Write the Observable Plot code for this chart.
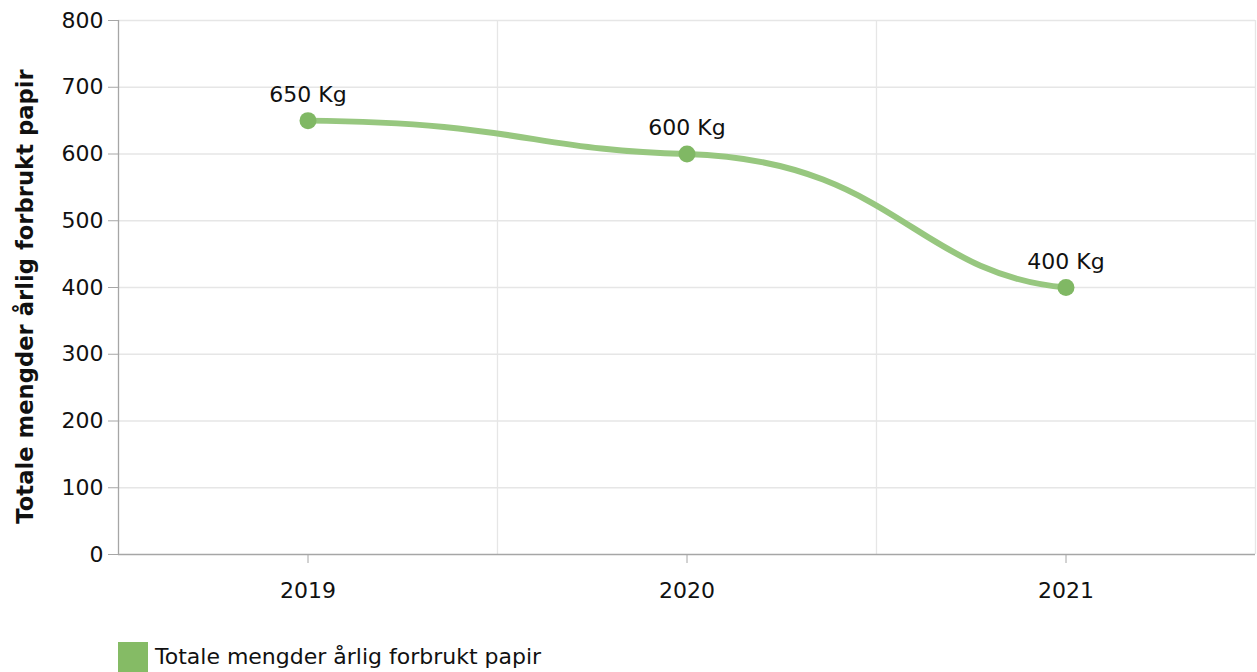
<!DOCTYPE html>
<html>
<head>
<meta charset="utf-8">
<script src="https://cdn.jsdelivr.net/npm/d3@7"></script>
<script src="https://cdn.jsdelivr.net/npm/@observablehq/plot@0.6"></script>
<style>
  body { margin: 0; background: #fff; font-family: "DejaVu Sans", Verdana, sans-serif; }
  #chart { width: 1257px; height: 612px; }
  #legend { position: relative; height: 60px; width: 1257px; }
  #legend .sw { position: absolute; left: 118px; top: 30px; width: 30px; height: 30px; background: #85bb65; }
  #legend .lbl { position: absolute; left: 155px; top: 31px; font-size: 22px; color: #111; line-height: 28px; white-space: nowrap; }
</style>
</head>
<body>
<div id="chart"></div>
<div id="legend"><div class="sw"></div><div class="lbl">Totale mengder årlig forbrukt papir</div></div>
<script>
const years = ["2019", "2020", "2021"];
const values = [650, 600, 400];
const yTicks = [0, 100, 200, 300, 400, 500, 600, 700, 800];
const seriesName = "Totale mengder årlig forbrukt papir";
const unit = "Kg";

const data = years.map((y, i) => ({ i, year: y, value: values[i], label: `${values[i]} ${unit}` }));

// Smooth curve: each segment is a cubic Bézier whose control points sit close
// to horizontal at both ends (asymmetric tension), giving a soft S between points.
function splineCurve(context) {
  let pts;
  const armOut = 0.55, armIn = 0.4, liftOut = 0.05, liftIn = 0.1;
  return {
    areaStart() {}, areaEnd() {},
    lineStart() { pts = []; },
    point(x, y) { pts.push([+x, +y]); },
    lineEnd() {
      const n = pts.length; if (!n) return;
      context.moveTo(pts[0][0], pts[0][1]);
      for (let k = 1; k < n; k++) {
        const [x0, y0] = pts[k - 1], [x1, y1] = pts[k];
        const w = x1 - x0, h = y1 - y0;
        context.bezierCurveTo(x0 + armOut * w, y0 + liftOut * h, x1 - armIn * w, y1 - liftIn * h, x1, y1);
      }
    }
  };
}

const bounds = d3.range(1, years.length + 1).map(k => k - 0.5);

const chart = Plot.plot({
  width: 1257,
  height: 612,
  marginLeft: 118,
  marginRight: 2,
  marginTop: 20,
  marginBottom: 58,
  style: { fontFamily: "DejaVu Sans, Verdana, sans-serif", fontSize: "22px", color: "#111", background: "#fff" },
  x: { type: "linear", domain: [-0.5, years.length - 0.5] },
  y: { domain: [0, 800] },
  marks: [
    Plot.ruleY(yTicks.slice(1), { stroke: "#e6e6e6", strokeWidth: 1.3 }),
    Plot.ruleX(bounds, { stroke: "#e6e6e6", strokeWidth: 1.3 }),
    Plot.ruleX([-0.5], { stroke: "#a6a6a6", strokeWidth: 1.3 }),
    Plot.ruleY([0], { stroke: "#a6a6a6", strokeWidth: 1.3 }),
    Plot.axisY({ ticks: yTicks, tickSize: 10, tickPadding: 5, stroke: "#a6a6a6", label: null, fontSize: 22 }),
    Plot.axisX({ ticks: d3.range(years.length), tickFormat: k => years[k], tickSize: 9, tickPadding: 19, stroke: "#a6a6a6", label: null, fontSize: 22 }),
    Plot.text([seriesName], { frameAnchor: "left", textAnchor: "middle", dx: -93, dy: 9, rotate: -90, fontWeight: "bold", fontSize: 22.7, fill: "#111" }),
    Plot.line(data, { x: "i", y: "value", stroke: "#97c77f", strokeWidth: 6, curve: splineCurve }),
    Plot.dot(data, { x: "i", y: "value", r: 8.5, fill: "#80b864", stroke: "none" }),
    Plot.text(data, { x: "i", y: "value", text: "label", dy: -26, fontSize: 22, fill: "#111" })
  ]
});
document.getElementById("chart").appendChild(chart);
</script>
</body>
</html>
